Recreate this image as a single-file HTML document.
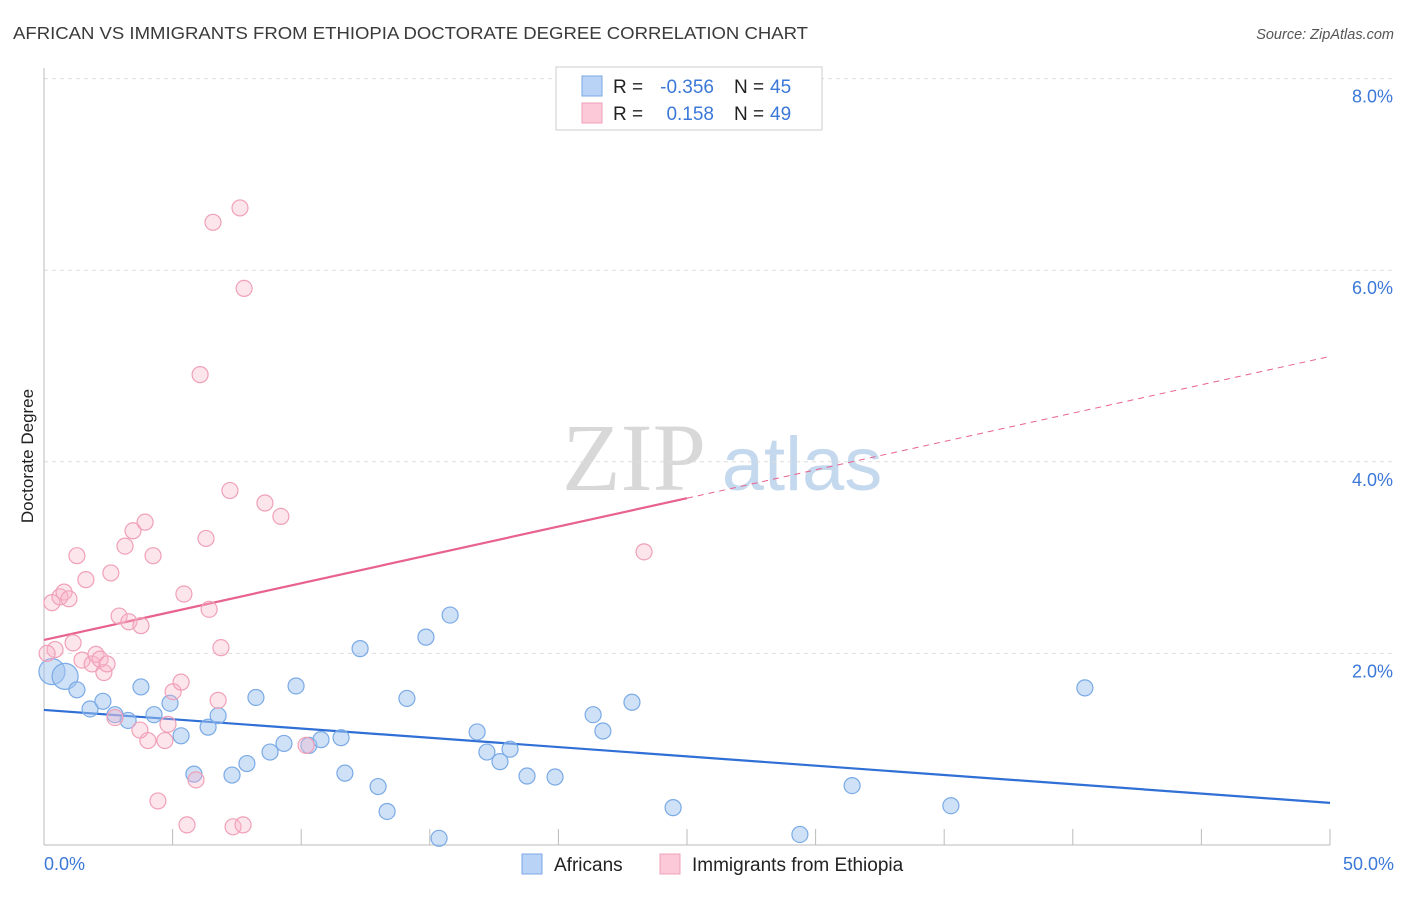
<!DOCTYPE html>
<html><head><meta charset="utf-8"><style>
body{margin:0;background:#fff;font-family:"Liberation Sans",sans-serif}
</style></head><body>
<svg id="chart" width="1406" height="892" xmlns="http://www.w3.org/2000/svg" font-family="Liberation Sans, sans-serif">
<text x="13" y="39" font-size="17.5" fill="#3a3a3a" textLength="795" lengthAdjust="spacingAndGlyphs">AFRICAN VS IMMIGRANTS FROM ETHIOPIA DOCTORATE DEGREE CORRELATION CHART</text>
<text x="1394" y="39" font-size="14.5" fill="#555" text-anchor="end" font-style="italic">Source: ZipAtlas.com</text>
<g>
<text x="634" y="490" font-size="96" font-family="Liberation Serif, serif" fill="#d8d8d8" text-anchor="middle">ZIP</text>
<text x="802" y="490" font-size="76" fill="#c4d8ee" text-anchor="middle">atlas</text>
</g>
<g id="grid"></g><g id="axes"></g><g id="lines"></g><g id="pts"></g>
<text transform="translate(33,456) rotate(-90)" font-size="17" fill="#222" text-anchor="middle">Doctorate Degree</text>
<g font-size="19">
<rect x="556" y="67" width="266" height="63" fill="#fff" stroke="#ccc"/>
<rect x="582" y="76" width="20" height="20" fill="#b8d3f5" stroke="#7aaae6"/>
<rect x="582" y="103" width="20" height="20" fill="#fbc9d7" stroke="#f0a0b8"/>
<text x="613" y="93" fill="#222">R =</text>
<text x="714" y="93" fill="#3b78d8" text-anchor="end">-0.356</text>
<text x="734" y="93" fill="#222">N =</text>
<text x="770" y="93" fill="#3b78d8">45</text>
<text x="613" y="120" fill="#222">R =</text>
<text x="714" y="120" fill="#3b78d8" text-anchor="end">0.158</text>
<text x="734" y="120" fill="#222">N =</text>
<text x="770" y="120" fill="#3b78d8">49</text>
</g>
<g>
<rect x="522" y="854" width="20" height="20" fill="#b8d3f5" stroke="#7aaae6"/>
<text x="554" y="871" font-size="19" fill="#222">Africans</text>
<rect x="660" y="854" width="20" height="20" fill="#fbc9d7" stroke="#f0a0b8"/>
<text x="692" y="871" font-size="19" fill="#222">Immigrants from Ethiopia</text>
</g>
</svg>
<script>
const yTicks=[2,4,6,8];
const yTickLabels=["2.0%","4.0%","6.0%","8.0%"];
const xTickLabels=["0.0%","50.0%"];
const blueX=[0.31,0.82,1.28,1.79,2.29,2.76,3.27,3.77,4.28,4.90,5.33,5.83,6.38,6.77,7.31,7.89,8.24,8.79,9.33,9.80,10.30,10.77,11.55,11.70,12.29,12.99,13.34,14.11,14.85,15.36,15.79,16.84,17.22,17.73,18.12,18.78,19.87,21.35,21.73,22.86,24.46,29.39,31.42,35.26,40.47];
const blueY=[1.81,1.76,1.62,1.42,1.50,1.36,1.30,1.65,1.36,1.48,1.14,0.74,1.23,1.35,0.73,0.85,1.54,0.97,1.06,1.66,1.04,1.10,1.12,0.75,2.05,0.61,0.35,1.53,2.17,0.07,2.40,1.18,0.97,0.87,1.00,0.72,0.71,1.36,1.19,1.49,0.39,0.11,0.62,0.41,1.64];
const pinkX=[0.31,0.43,0.62,0.78,0.97,1.13,1.28,1.48,1.63,1.87,2.02,2.18,2.33,2.45,2.60,2.76,2.92,3.15,3.30,3.46,3.77,3.93,4.04,4.24,4.43,4.70,4.82,5.02,5.33,5.44,5.56,5.91,6.07,6.30,6.42,6.57,6.77,6.88,7.23,7.35,7.62,7.74,7.78,8.59,9.21,10.19,23.33,0.12,3.73];
const pinkY=[2.53,2.04,2.59,2.64,2.57,2.11,3.02,1.93,2.77,1.89,1.99,1.94,1.80,1.89,2.84,1.33,2.39,3.12,2.33,3.28,2.29,3.37,1.09,3.02,0.46,1.09,1.26,1.60,1.70,2.62,0.21,0.68,4.91,3.20,2.46,6.50,1.51,2.06,3.70,0.19,6.65,0.21,5.81,3.57,3.43,1.04,3.06,2.00,1.20];
const blueTrend=[[0,1.41],[50,0.44]];
const pinkTrend=[[0,2.14],[25,3.62],[50,5.10]];
const NS="http://www.w3.org/2000/svg";
const X=v=>44+v*25.72, Y=v=>845-v*95.8;
function mk(p,t,a){const e=document.createElementNS(NS,t);for(const k in a)e.setAttribute(k,a[k]);document.getElementById(p).appendChild(e);return e;}
yTicks.forEach((t,i)=>{
 const g=mk('grid','line',{x1:44,x2:1394,y1:Y(t),y2:Y(t),stroke:'#ddd','stroke-dasharray':'4,4'});
 
 
 const l=mk('axes','text',{x:1393,y:Y(t)+24,'font-size':18,fill:'#3b78d8','text-anchor':'end'});l.textContent=yTickLabels[i];
 
 
});
const ax=mk('axes','line',{x1:44,x2:1330,y1:845,y2:845,stroke:'#bbb'});


const ay=mk('axes','line',{x1:44,x2:44,y1:68,y2:845,stroke:'#bbb'});


for(let i=1;i<=10;i++){const t=mk('axes','line',{x1:X(i*5),x2:X(i*5),y1:829,y2:845,stroke:'#bbb'});
 
 }
[[0,44,'start'],[50,1394,'end']].forEach((d,i)=>{const t=mk('axes','text',{x:d[1],y:870,'font-size':18,fill:'#3b78d8','text-anchor':d[2]});t.textContent=xTickLabels[i];
 
 });
function pt(x,y,r,f,s,n){const c=mk('pts','circle',{cx:X(x),cy:Y(y),r:r,fill:f,stroke:s,'stroke-width':1.2});
 
 }
blueX.forEach((x,i)=>pt(x,blueY[i],i<2?13:8,'rgba(160,196,240,0.5)','#7aaae6','africans-point'));
pinkX.forEach((x,i)=>pt(x,pinkY[i],8,'rgba(248,180,200,0.35)','#f0a0b8','ethiopia-point'));
const bl=mk('lines','line',{x1:X(blueTrend[0][0]),y1:Y(blueTrend[0][1]),x2:X(blueTrend[1][0]),y2:Y(blueTrend[1][1]),stroke:'#2f6fd6','stroke-width':2.2});


const pl=mk('lines','line',{x1:X(pinkTrend[0][0]),y1:Y(pinkTrend[0][1]),x2:X(pinkTrend[1][0]),y2:Y(pinkTrend[1][1]),stroke:'#e8628f','stroke-width':2.2});


const pd=mk('lines','line',{x1:X(pinkTrend[1][0]),y1:Y(pinkTrend[1][1]),x2:X(pinkTrend[2][0]),y2:Y(pinkTrend[2][1]),stroke:'#e8628f','stroke-width':1,'stroke-dasharray':'6,5'});


</script>
</body></html>
